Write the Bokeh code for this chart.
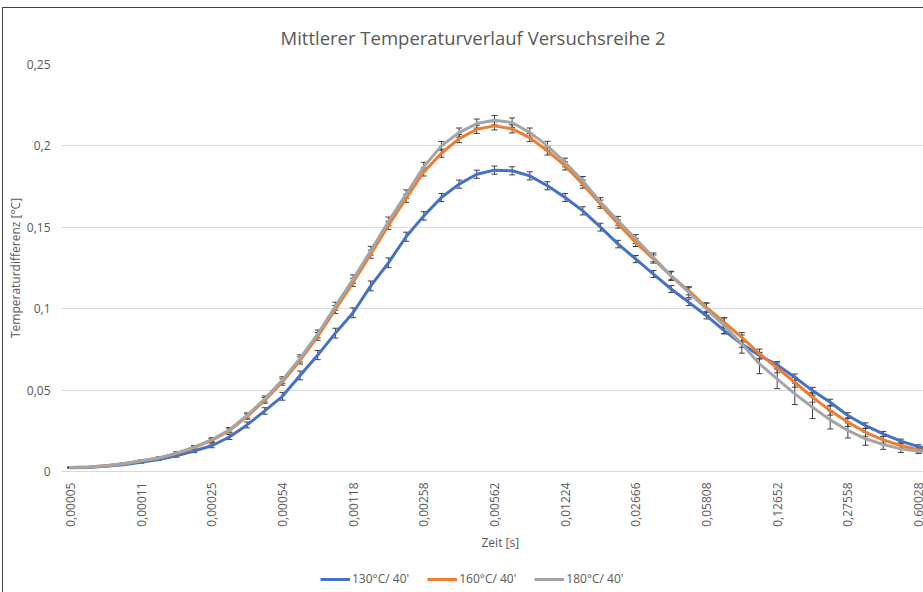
import math
from bokeh.plotting import figure
from bokeh.layouts import column
from bokeh.models import (ColumnDataSource, Whisker, TeeHead, FixedTicker, Legend,
                          LegendItem, Title, Range1d)
from bokeh.embed import file_html
from bokeh.resources import INLINE

# category tick labels (every 4th time step, Zeit [s])
tick_labels = ["0,00005", "0,00011", "0,00025", "0,00054", "0,00118", "0,00258", "0,00562",
               "0,01224", "0,02666", "0,05808", "0,12652", "0,27558", "0,60028"]
tick_step = 4

y_ticks = [0, 0.05, 0.1, 0.15, 0.2, 0.25]
y_tick_labels = ["0", "0,05", "0,1", "0,15", "0,2", "0,25"]

series_names = ["130°C/ 40'", "160°C/ 40'", "180°C/ 40'"]

t130 = [0.0023, 0.0025, 0.0032, 0.0042, 0.0056, 0.0073, 0.0096, 0.0126, 0.0158, 0.0212,
        0.0286, 0.0372, 0.0462, 0.0590, 0.0715, 0.0850, 0.0975, 0.1140, 0.1282, 0.1442,
        0.1570, 0.1683, 0.1765, 0.1826, 0.1851, 0.1847, 0.1816, 0.1755, 0.1683, 0.1601,
        0.1501, 0.1397, 0.1305, 0.1213, 0.1121, 0.1039, 0.0957, 0.0865, 0.0783, 0.0712,
        0.0655, 0.0579, 0.0497, 0.0425, 0.0344, 0.0282, 0.0231, 0.0186, 0.0153, 0.0128]
t160 = [0.0025, 0.0027, 0.0035, 0.0047, 0.0064, 0.0081, 0.0110, 0.0146, 0.0191, 0.0251,
        0.0337, 0.0437, 0.0550, 0.0682, 0.0830, 0.0995, 0.1162, 0.1335, 0.1512, 0.1678,
        0.1840, 0.1955, 0.2045, 0.2102, 0.2123, 0.2105, 0.2051, 0.1969, 0.1877, 0.1765,
        0.1642, 0.1520, 0.1407, 0.1305, 0.1202, 0.1110, 0.1008, 0.0916, 0.0824, 0.0722,
        0.0636, 0.0548, 0.0456, 0.0374, 0.0303, 0.0241, 0.0194, 0.0160, 0.0133, 0.0118]
t180 = [0.0025, 0.0028, 0.0036, 0.0048, 0.0066, 0.0083, 0.0113, 0.0149, 0.0195, 0.0256,
        0.0344, 0.0446, 0.0562, 0.0695, 0.0845, 0.1015, 0.1182, 0.1356, 0.1536, 0.1703,
        0.1872, 0.2000, 0.2082, 0.2137, 0.2158, 0.2143, 0.2082, 0.2000, 0.1898, 0.1785,
        0.1655, 0.1540, 0.1428, 0.1315, 0.1202, 0.1100, 0.0998, 0.0896, 0.0783, 0.0661,
        0.0569, 0.0477, 0.0395, 0.0317, 0.0252, 0.0201, 0.0166, 0.0139, 0.0125, 0.0115]

e130 = [0.0002, 0.0002, 0.0003, 0.0004, 0.0005, 0.0006, 0.0008, 0.0010, 0.0012, 0.0015,
        0.0018, 0.0020, 0.0024, 0.0027, 0.0028, 0.0030, 0.0030, 0.0030, 0.0030, 0.0028,
        0.0026, 0.0025, 0.0025, 0.0025, 0.0025, 0.0025, 0.0025, 0.0025, 0.0025, 0.0025,
        0.0024, 0.0023, 0.0022, 0.0022, 0.0021, 0.0020, 0.0020, 0.0020, 0.0020, 0.0020,
        0.0020, 0.0020, 0.0020, 0.0019, 0.0018, 0.0017, 0.0015, 0.0013, 0.0011, 0.0010]
e160 = [0.0002, 0.0002, 0.0003, 0.0004, 0.0005, 0.0006, 0.0008, 0.0010, 0.0012, 0.0014,
        0.0016, 0.0018, 0.0020, 0.0022, 0.0024, 0.0025, 0.0025, 0.0025, 0.0025, 0.0025,
        0.0025, 0.0025, 0.0025, 0.0025, 0.0025, 0.0025, 0.0025, 0.0025, 0.0025, 0.0025,
        0.0025, 0.0025, 0.0025, 0.0025, 0.0025, 0.0025, 0.0026, 0.0028, 0.0030, 0.0030,
        0.0030, 0.0030, 0.0030, 0.0028, 0.0026, 0.0024, 0.0020, 0.0016, 0.0013, 0.0011]
e180 = [0.0002, 0.0002, 0.0003, 0.0004, 0.0005, 0.0006, 0.0008, 0.0010, 0.0012, 0.0014,
        0.0016, 0.0018, 0.0020, 0.0022, 0.0024, 0.0025, 0.0026, 0.0027, 0.0027, 0.0027,
        0.0027, 0.0027, 0.0028, 0.0028, 0.0029, 0.0029, 0.0028, 0.0028, 0.0027, 0.0027,
        0.0027, 0.0027, 0.0027, 0.0027, 0.0028, 0.0032, 0.0038, 0.0048, 0.0056, 0.0060,
        0.0060, 0.0066, 0.0070, 0.0056, 0.0046, 0.0040, 0.0030, 0.0022, 0.0015, 0.0012]

colors = ["#4472C4", "#ED7D31", "#A5A5A5"]
err_color = "#404040"
text_color = "#595959"
FONT = "Open Sans"

n = len(t130)
idx = list(range(n))

# ---------------- main chart ----------------
p = figure(width=920, height=552, output_backend="svg", toolbar_location=None,
           x_range=Range1d(-0.5, 48.28), y_range=Range1d(0, 0.25),
           min_border_left=56, min_border_right=0, min_border_top=56, min_border_bottom=89,
           outline_line_color=None, background_fill_color="white", border_fill_color="white")

title = Title(text="Mittlerer Temperaturverlauf Versuchsreihe 2", align="left", offset=219,
              text_font=FONT, text_font_size="18.5px", text_font_style="normal",
              text_color=text_color, standoff=29)
p.add_layout(title, "above")

renderers = []
for vals, errs, col in zip([t130, t160, t180], [e130, e160, e180], colors):
    src = ColumnDataSource(dict(x=idx, y=vals,
                                lo=[v - e for v, e in zip(vals, errs)],
                                hi=[v + e for v, e in zip(vals, errs)]))
    r = p.line("x", "y", source=src, line_color=col, line_width=3, line_join="round",
               line_cap="round")
    renderers.append(r)
    w = Whisker(source=src, base="x", lower="lo", upper="hi", line_color=err_color,
                line_width=1,
                lower_head=TeeHead(size=6, line_color=err_color, line_width=1),
                upper_head=TeeHead(size=6, line_color=err_color, line_width=1))
    p.add_layout(w)

p.yaxis.ticker = FixedTicker(ticks=y_ticks)
p.yaxis.major_label_overrides = {t: l for t, l in zip(y_ticks, y_tick_labels)}
p.yaxis.axis_line_color = None
p.yaxis.major_tick_line_color = None
p.yaxis.minor_tick_line_color = None
p.yaxis.major_tick_out = 0
p.yaxis.minor_tick_out = 0
p.yaxis.major_label_text_font = FONT
p.yaxis.major_label_text_font_size = "12px"
p.yaxis.major_label_text_color = text_color
p.yaxis.major_label_standoff = 11
p.yaxis.axis_label = "Temperaturdifferenz [°C]"
p.yaxis.axis_label_text_font = FONT
p.yaxis.axis_label_text_font_size = "12px"
p.yaxis.axis_label_text_font_style = "normal"
p.yaxis.axis_label_text_color = text_color
p.yaxis.axis_label_standoff = 0

x_ticks = [i * tick_step for i in range(len(tick_labels))]
p.xaxis.ticker = FixedTicker(ticks=x_ticks)
p.xaxis.major_label_overrides = {t: l for t, l in zip(x_ticks, tick_labels)}
p.xaxis.major_label_orientation = math.pi / 2
p.xaxis.axis_line_color = "#d9d9d9"
p.xaxis.major_tick_line_color = None
p.xaxis.minor_tick_line_color = None
p.xaxis.major_tick_out = 0
p.xaxis.minor_tick_out = 0
p.xaxis.major_label_text_font = FONT
p.xaxis.major_label_text_font_size = "12px"
p.xaxis.major_label_text_color = text_color
p.xaxis.major_label_standoff = 11

p.xgrid.grid_line_color = None
p.ygrid.grid_line_color = "#d9d9d9"
p.ygrid.grid_line_width = 1

xlab = Title(text="Zeit [s]", align="left", offset=420, text_font=FONT,
             text_font_size="12px", text_font_style="normal", text_color=text_color,
             standoff=4)
p.add_layout(xlab, "below")

# ---------------- legend strip ----------------
p2 = figure(width=920, height=32, output_backend="svg", toolbar_location=None,
            x_range=Range1d(0, 1), y_range=Range1d(0, 1),
            x_axis_type=None, y_axis_type=None, min_border=0,
            min_border_left=0, min_border_right=0, min_border_top=0, min_border_bottom=0,
            outline_line_color=None, background_fill_color="white", border_fill_color="white")
p2.xgrid.visible = False
p2.ygrid.visible = False
leg_renderers = [p2.line(x=[5, 6], y=[5, 5], line_color=c, line_width=3) for c in colors]
legend = Legend(items=[LegendItem(label=nm, renderers=[r]) for nm, r in zip(series_names, leg_renderers)],
                orientation="horizontal", location=(259, 5), border_line_color=None,
                background_fill_alpha=0, glyph_width=30, glyph_height=16, label_standoff=2,
                spacing=18, padding=0, margin=0, label_text_font=FONT,
                label_text_font_size="12px", label_text_color=text_color)
p2.add_layout(legend, "center")

layout = column(p, p2, spacing=0, margin=(8, 0, 0, 3),
                styles={"outline": "1px solid #404040"})

open("out.html", "w").write(file_html(layout, INLINE))
